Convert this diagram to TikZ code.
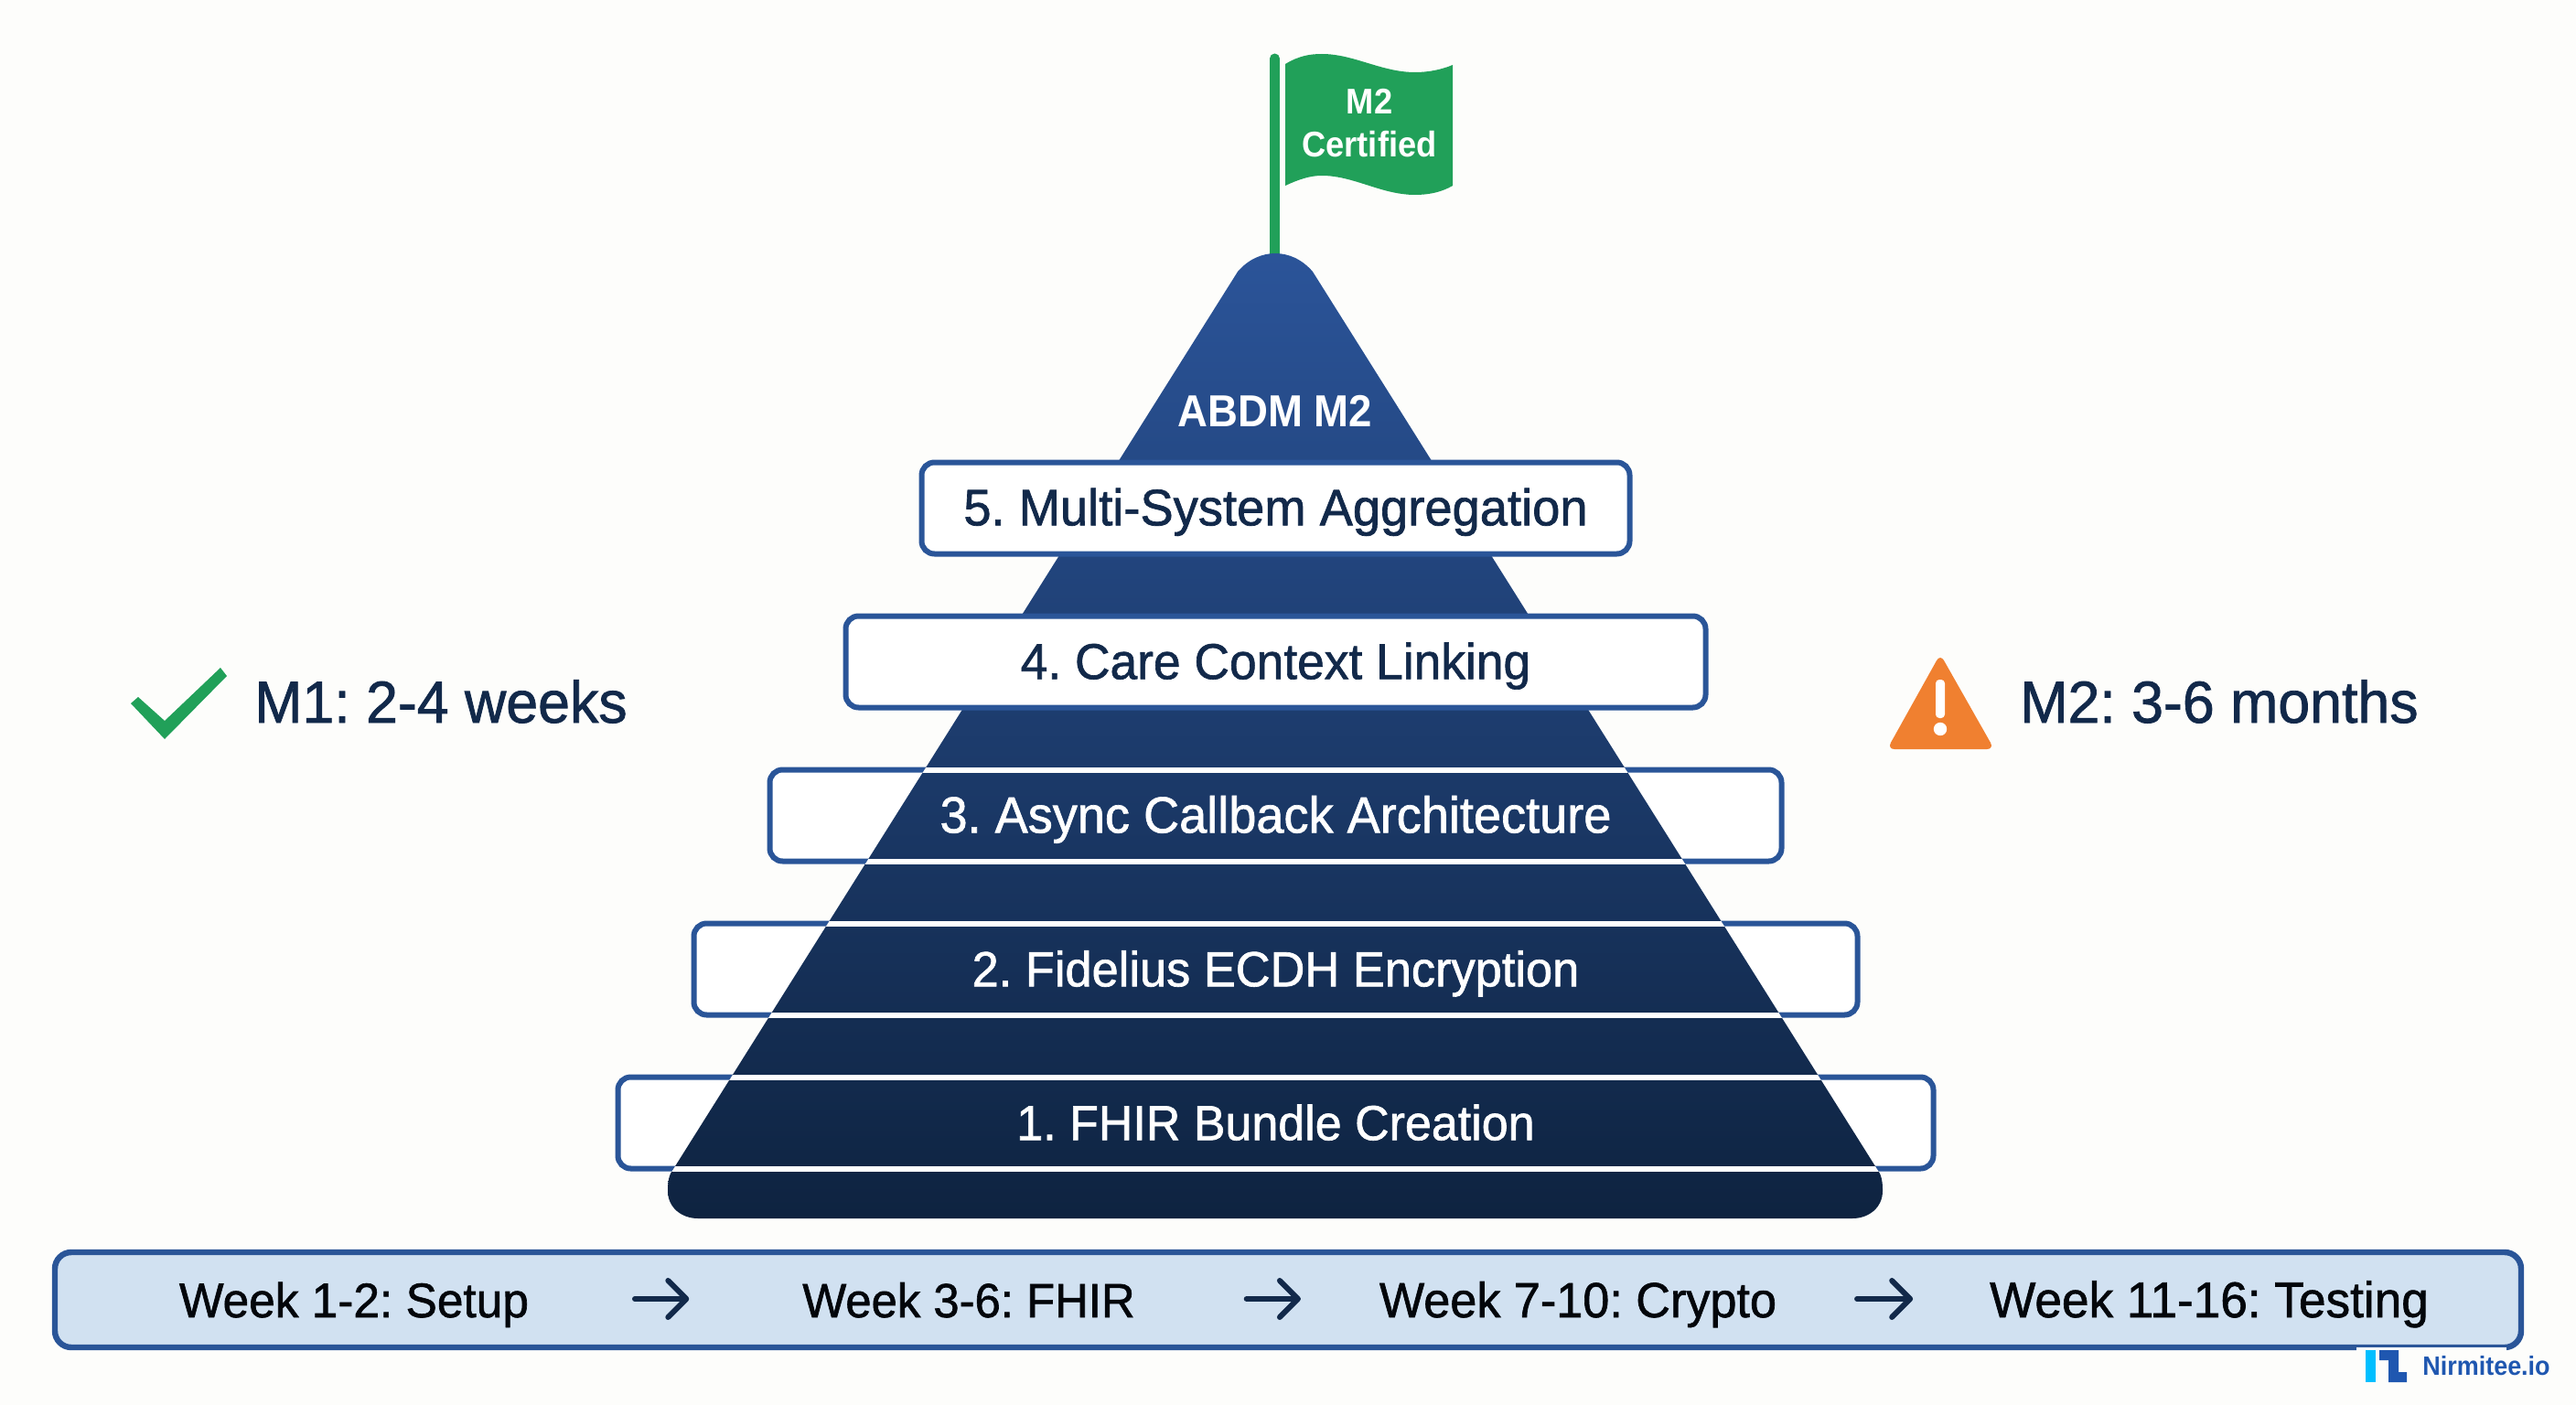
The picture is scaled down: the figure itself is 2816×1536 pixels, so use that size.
\documentclass[tikz,border=0pt]{standalone}
\usepackage{fontspec}
\setmainfont{Liberation Sans}[FakeStretch=0.97,FakeBold=1.2]
\newfontfamily\semibold{Liberation Sans}[UprightFont=* Bold,FakeStretch=0.93]
\frenchspacing
\usetikzlibrary{ % tikz packages
    positioning,
    arrows.meta
}
\definecolor{paper}{HTML}{FDFDFB}
\definecolor{tierblue}{HTML}{2A5598}
\definecolor{pyrtop}{HTML}{2B5499}
\definecolor{pyrbot}{HTML}{0E2340}
\definecolor{navy}{HTML}{12294A}
\definecolor{flaggreen}{HTML}{21A059}
\definecolor{warnorange}{HTML}{F08030}
\definecolor{barfill}{HTML}{D1E1F1}
\definecolor{logoblue}{HTML}{1F57B0}
\definecolor{logocyan}{HTML}{00BFFF}
\tikzset{
    tier/.style={draw=tierblue,fill=white,line width=3pt,rounded corners=7pt,
        minimum height=50pt,outer sep=0pt,inner sep=0pt},
    capped/.style={inner sep=0pt,outer sep=0pt,text depth=0pt},
    tierlabel/.style={capped,yshift=0.6pt,text height=20pt,font=\fontsize{#1}{32}\selectfont},
    weeklabel/.style={capped,text height=20pt,text=black!85!navy,font=\fontsize{#1}{32}\selectfont},
    sidelabel/.style={capped,text height=23pt,text=navy,font=\fontsize{32.3}{36}\selectfont},
    flaglabel/.style={capped,text height=14pt,text=white,font=\semibold\fontsize{19.5}{24}\selectfont},
    weekarrow/.style={->,navy,line width=3pt,line cap=round}
}
\tikzset{>={Straight Barb[length=10pt,width=20pt,line width=3pt,round]}}
\newcommand{\pyrpath}{(733,1283) .. controls (730,1290) and (730,1296) .. (730,1302)
    .. controls (730,1320) and (745,1332) .. (763,1332) -- (2025,1332)
    .. controls (2043,1332) and (2058,1320) .. (2058,1302)
    .. controls (2058,1296) and (2058,1290) .. (2055,1283)
    -- (1435,297) .. controls (1423,283) and (1408,277) .. (1394,277)
    .. controls (1380,277) and (1365,283) .. (1353,297) -- cycle}

\begin{document}
\begin{tikzpicture}[x=0.5pt,y=-0.5pt,node distance=84pt,on grid,auto]
    \fill[paper] (0,0) rectangle (2816,1536);
    \useasboundingbox (0,0) rectangle (2816,1536);

    % flag
    \draw[flaggreen,line width=5.5pt,line cap=round] (1393.5,64) -- (1393.5,285);
    \fill[flaggreen] (1405,70) .. controls (1420,61) and (1432,59) .. (1445,59)
        .. controls (1480,59) and (1510,79) .. (1547,79)
        .. controls (1562,79) and (1576,76) .. (1588,71)
        -- (1588,203) .. controls (1576,210) and (1562,213) .. (1547,213)
        .. controls (1510,213) and (1480,192) .. (1445,192)
        .. controls (1432,192) and (1420,196) .. (1405,203) -- cycle;
    \node[flaglabel] (flagtop) at (1497,111) {M2};
    \node[flaglabel] (flagbot) at (1497,157) {Certified};

    % lower tiers sit behind the pyramid
    \node[tier,minimum width=719pt] (b1) at (1394.5,1227.5) {};
    \node[tier,minimum width=636pt] (b2) [above=of b1] {};
    \node[tier,minimum width=553pt] (b3) [above=of b2] {};

    \shade[top color=pyrtop,bottom color=pyrbot] \pyrpath;
    \begin{scope}
        \clip \pyrpath;
        \foreach \n in {1,2,3} {
            \draw[white,line width=3pt] (b\n.north west) -- (b\n.north east);
            \draw[white,line width=3pt] (b\n.south west) -- (b\n.south east);
        }
    \end{scope}

    \node[tier,minimum width=470pt] (b4) [above=of b3] {};
    \node[tier,minimum width=387pt] (b5) [above=of b4] {};

    \node[tierlabel=26.8,text=white] at (b1) {1. FHIR Bundle Creation};
    \node[tierlabel=27,text=white] at (b2) {2. Fidelius ECDH Encryption};
    \node[tierlabel=27.9,text=white] at (b3) {3. Async Callback Architecture};
    \node[tierlabel=27.5,text=navy] at (b4) {4. Care Context Linking};
    \node[tierlabel=28,text=navy] at (b5) {5. Multi-System Aggregation};
    \node[capped,text height=17pt,text=white,font=\semibold\fontsize{24.5}{30}\selectfont] (top) at (1394,449) {ABDM M2};

    % side notes
    \fill[flaggreen] (143,769) -- (151,762) -- (180,788) -- (241,730) -- (248,739) -- (180,808) -- cycle;
    \node[sidelabel] (m1) at (482,767) {M1: 2-4 weeks};
    \fill[warnorange,rounded corners=4pt] (2121,715) -- (2180,819) -- (2063,819) -- cycle;
    \fill[white,rounded corners=2pt] (2116,743) rectangle (2126,785);
    \fill[white] (2121,797) circle (3.6pt);
    \node[sidelabel] (m2) at (2426,767) {M2: 3-6 months};

    % timeline
    \node[draw=tierblue,fill=barfill,line width=3.2pt,rounded corners=9pt,outer sep=0pt,
        minimum width=1348pt,minimum height=52pt] (bar) at (1408,1421) {};
    \fill[paper] (2576,1473) rectangle (2740,1480);
    \node[weeklabel=26.5] (w1) at (387,1420) {Week 1-2: Setup};
    \node[weeklabel=26.2] (w2) [right=336pt of w1] {Week 3-6: FHIR};
    \node[weeklabel=26.9] (w3) [right=333pt of w2] {Week 7-10: Crypto};
    \node[weeklabel=27.4] (w4) [right=345pt of w3] {Week 11-16: Testing};
    \draw[weekarrow,shorten <=58pt,shorten >=62pt] (w1) -- (w2);
    \draw[weekarrow,shorten <=61pt,shorten >=43pt] (w2) -- (w3);
    \draw[weekarrow,shorten <=44pt,shorten >=42pt] (w3) -- (w4);

    % logo
    \fill[logocyan] (2586,1476) rectangle (2597,1511);
    \fill[logoblue] (2601,1476) -- (2622,1476) -- (2622,1500) -- (2631,1500)
        -- (2631,1511) -- (2611,1511) -- (2611,1487) -- (2601,1487) -- cycle;
    \node[capped,text height=9.5pt,text=logoblue,font=\semibold\fontsize{14.5}{16}\selectfont] (logo) at (2718,1494) {Nirmitee.io};
\end{tikzpicture}
\end{document}
